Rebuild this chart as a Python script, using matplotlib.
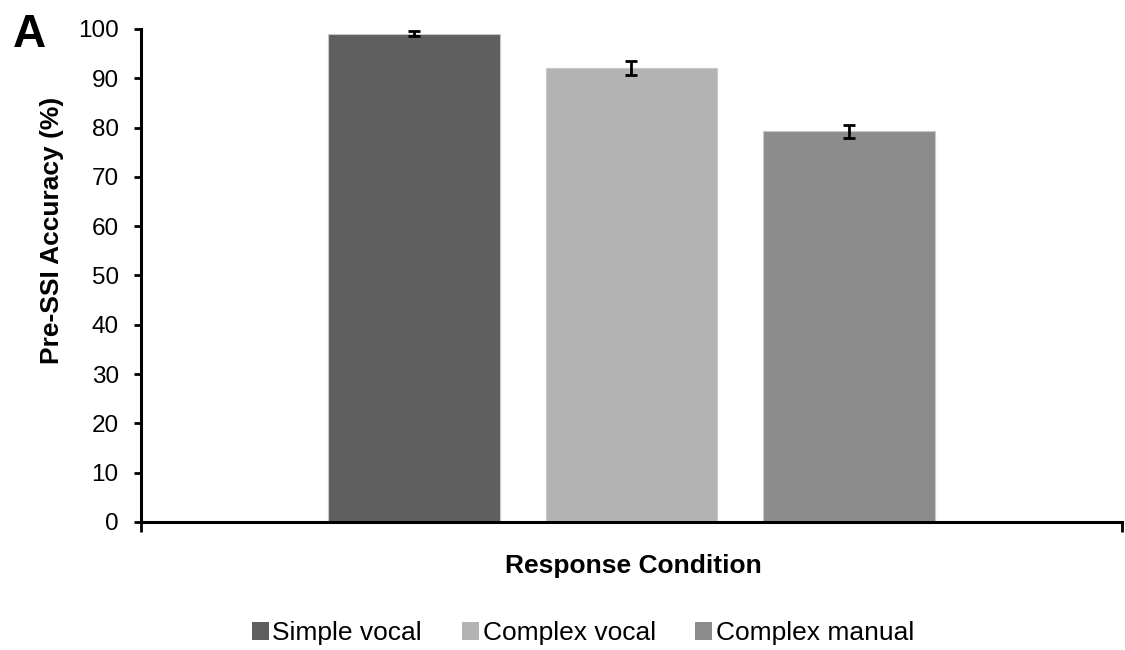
import matplotlib
matplotlib.use("Agg")
import matplotlib.pyplot as plt

plt.rcParams['font.family'] = ['Liberation Sans', 'DejaVu Sans']

conditions = ["Simple vocal", "Complex vocal", "Complex manual"]
accuracy = [99.0, 92.0, 79.2]
errors = [0.5, 1.4, 1.25]
colors = ["#5f5f5f", "#b3b3b3", "#8c8c8c"]
yticks = [0, 10, 20, 30, 40, 50, 60, 70, 80, 90, 100]

fig = plt.figure(figsize=(11.25, 6.5), dpi=100)
ax = fig.add_axes([0.1253, 0.197, 0.872, 0.7585])

offsets = [-0.2215, 0.0, 0.2215]
width = 0.175
for name, val, err, col, off in zip(conditions, accuracy, errors, colors, offsets):
    ax.bar(0.5 + off, val, width=width, color=col, edgecolor="#c8c8c8",
           linewidth=0.8, label=name, zorder=2)
    ax.errorbar(0.5 + off, val, yerr=err, fmt="none", ecolor="black",
                elinewidth=2, capsize=4, capthick=2, zorder=3)

ax.set_xlim(0, 1)
ax.set_ylim(0, 100)
ax.set_yticks(yticks)
ax.set_xticks([0, 1])
ax.set_xticklabels([])
for s in ["top", "right"]:
    ax.spines[s].set_visible(False)
for s in ["left", "bottom"]:
    ax.spines[s].set_linewidth(2.2)
ax.tick_params(axis="y", direction="out", length=5, width=2, labelsize=17.5, pad=11)
ax.tick_params(axis="x", direction="out", length=7, width=2)

ax.set_ylabel("Pre-SSI Accuracy (%)", fontsize=19, fontweight="bold")
ax.yaxis.set_label_coords(-0.0785, 0.592)
ax.set_xlabel("Response Condition", fontsize=19, fontweight="bold")
ax.xaxis.set_label_coords(0.5015, -0.1034)
ax.xaxis.label.set_verticalalignment("baseline")

fig.text(0.0116, 1 - 47 / 650, "A", fontsize=33, fontweight="bold", va="baseline")

leg = fig.legend(loc="center", bbox_to_anchor=(583 / 1125, 0.026), ncol=3, frameon=False,
                 fontsize=19, handlelength=0.64, handleheight=0.64, handletextpad=0.15,
                 columnspacing=1.5, borderpad=0, borderaxespad=0)
for h in leg.legend_handles:
    h.set_edgecolor("none")

fig.savefig("out.png", dpi=100)
